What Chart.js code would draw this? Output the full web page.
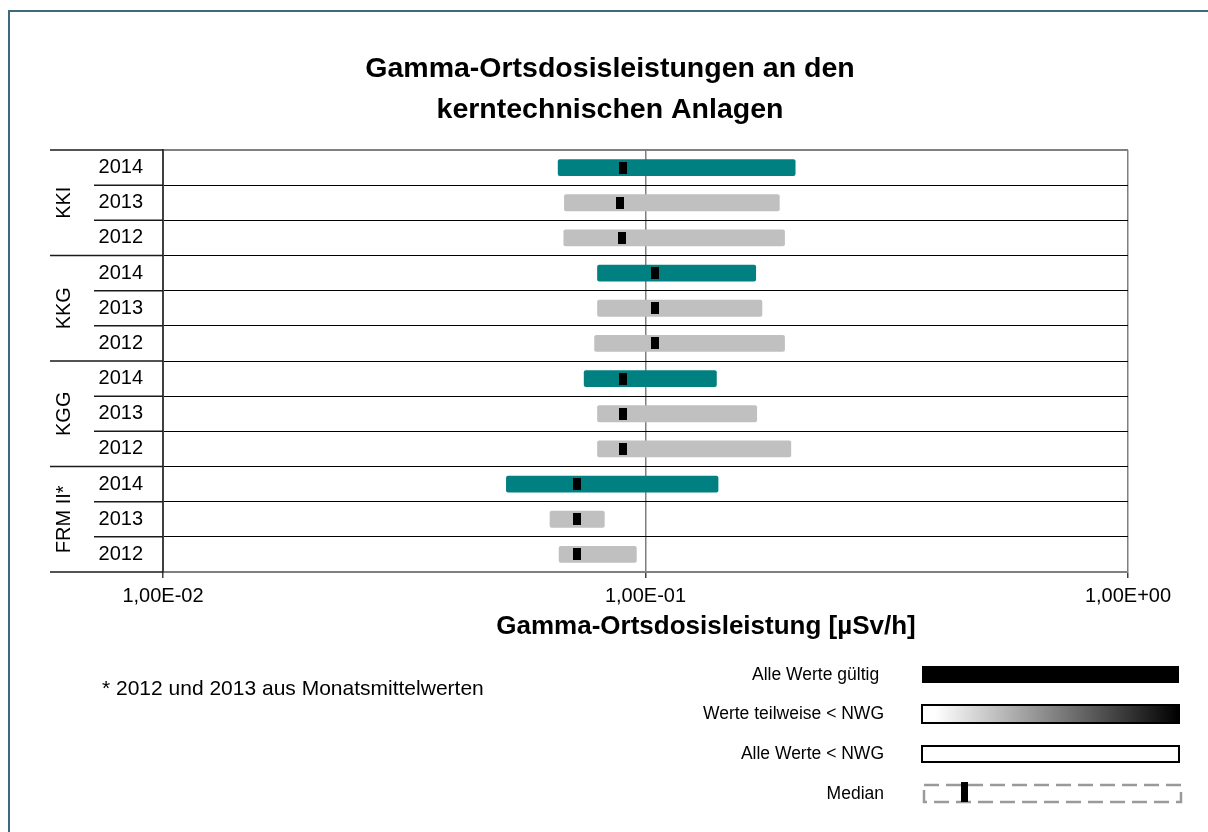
<!DOCTYPE html>
<html><head><meta charset="utf-8">
<script src="https://cdn.jsdelivr.net/npm/chart.js@4/dist/chart.umd.min.js"></script>
<style>html,body{margin:0;padding:0;background:#fff}#wrap{width:1208px;height:832px}</style>
</head><body><div id="wrap"><canvas id="c" width="1208" height="832"></canvas></div>
<script>
// ---- data ----
const titleLines = ['Gamma-Ortsdosisleistungen an den', 'kerntechnischen Anlagen'];
const axisTitle = 'Gamma-Ortsdosisleistung [µSv/h]';
const groups = ['KKI', 'KKG', 'KGG', 'FRM II*'];
const years = ['2014', '2013', '2012'];
const minValues = [0.0658, 0.0678, 0.0676, 0.0794, 0.0794, 0.0783, 0.0745, 0.0794, 0.0794, 0.0514, 0.0633, 0.0661];
const maxValues = [0.2046, 0.1897, 0.1945, 0.1695, 0.1746, 0.1945, 0.1405, 0.1703, 0.2004, 0.1416, 0.0823, 0.0959];
const medianValues = [0.0898, 0.0885, 0.0893, 0.1046, 0.1046, 0.1046, 0.0898, 0.0898, 0.0898, 0.0721, 0.0721, 0.0721];
const xTickValues = [0.01, 0.1, 1];
const xTickLabels = ['1,00E-02', '1,00E-01', '1,00E+00'];
const legendLabels = ['Alle Werte gültig ', 'Werte teilweise < NWG', 'Alle Werte < NWG', 'Median'];
const footnote = '* 2012 und 2013 aus Monatsmittelwerten';

const rowLabels = groups.flatMap(() => years);
const rowGroups = groups.flatMap(g => years.map(() => g));
const TEAL = '#008080', GRAY = '#c0c0c0';
const barColors = rowLabels.map(y => y === '2014' ? TEAL : GRAY);
const FONT = "'Liberation Sans', Arial, Helvetica, sans-serif";
Chart.defaults.font.family = FONT;
Chart.defaults.color = '#000';

const medImg = document.createElement('canvas');
medImg.width = 8; medImg.height = 12;
(function(){ const m = medImg.getContext('2d'); m.fillStyle = '#000'; m.fillRect(0, 0, 8, 12); })();

const decor = {
  id: 'decor',
  afterDraw(chart) {
    const ctx = chart.ctx, ys = chart.scales.y, area = chart.chartArea;
    ctx.save();
    // outer frame
    ctx.fillStyle = '#3e6a7c';
    ctx.fillRect(8, 10, 1200, 2);
    ctx.fillRect(8, 10, 2, 822);
    // title
    ctx.fillStyle = '#000'; ctx.textAlign = 'center'; ctx.textBaseline = 'alphabetic';
    ctx.font = 'bold 28.5px ' + FONT;
    ctx.fillText(titleLines[0], 610, 77);
    ctx.fillText(titleLines[1], 610, 118);
    // axis title
    ctx.font = 'bold 26px ' + FONT;
    ctx.fillText(axisTitle, 706, 634);
    // separators in label area
    const n = rowLabels.length;
    const half = (ys.getPixelForValue(1) - ys.getPixelForValue(0)) / 2;
    ctx.strokeStyle = '#1a1a1a'; ctx.lineWidth = 1.5;
    for (let i = 0; i <= n; i++) {
      const y = i < n ? ys.getPixelForValue(i) - half : ys.getPixelForValue(n - 1) + half;
      const edge = i === 0 || i === n || rowGroups[i] !== rowGroups[i - 1];
      ctx.beginPath(); ctx.moveTo(edge ? 50 : 94, y); ctx.lineTo(area.left, y); ctx.stroke();
    }
    // group labels
    ctx.font = '20px ' + FONT; ctx.textAlign = 'center'; ctx.textBaseline = 'alphabetic';
    groups.forEach(g => {
      const idx = rowGroups.map((v, i) => v === g ? i : -1).filter(i => i >= 0);
      const yc = (ys.getPixelForValue(idx[0]) + ys.getPixelForValue(idx[idx.length - 1])) / 2;
      ctx.save(); ctx.translate(70, yc); ctx.rotate(-Math.PI / 2); ctx.fillText(g, 0, 0); ctx.restore();
    });
    // footnote
    ctx.font = '21px ' + FONT; ctx.textAlign = 'left';
    ctx.fillText(footnote, 102, 695);
    // legend
    const lx = 922, lw = 257;
    const boxes = [[666, 17], [705, 18], [746, 16], [785, 17]];
    ctx.font = '17.5px ' + FONT; ctx.textAlign = 'right'; ctx.textBaseline = 'middle';
    legendLabels.forEach((t, i) => ctx.fillText(t, 884, boxes[i][0] + boxes[i][1] / 2 + 0.5));
    // box 1
    ctx.fillStyle = '#000'; ctx.fillRect(lx, boxes[0][0], lw, boxes[0][1]);
    // box 2
    const gr = ctx.createLinearGradient(lx, 0, lx + lw, 0);
    gr.addColorStop(0, '#ffffff'); gr.addColorStop(0.05, '#ffffff'); gr.addColorStop(1, '#000000');
    ctx.fillStyle = gr; ctx.fillRect(lx, boxes[1][0], lw, boxes[1][1]);
    ctx.strokeStyle = '#000'; ctx.lineWidth = 2;
    ctx.strokeRect(lx, boxes[1][0], lw, boxes[1][1]);
    // box 3
    ctx.fillStyle = '#fff'; ctx.fillRect(lx, boxes[2][0], lw, boxes[2][1]);
    ctx.strokeRect(lx, boxes[2][0], lw, boxes[2][1]);
    // box 4 dashed + median marker
    ctx.setLineDash([15, 7]); ctx.strokeStyle = '#9a9a9a'; ctx.lineWidth = 2.5;
    ctx.strokeRect(lx + 2, boxes[3][0], lw, boxes[3][1]);
    ctx.setLineDash([]);
    ctx.fillStyle = '#000'; ctx.fillRect(961, 782, 7, 20);
    ctx.restore();
  }
};

new Chart(document.getElementById('c'), {
  type: 'bar',
  data: {
    labels: rowLabels,
    datasets: [
      { type: 'line', label: 'Median', data: medianValues, indexAxis: 'y', showLine: false,
        pointStyle: medImg, pointRadius: 6, pointHoverRadius: 6, order: 0, xAxisID: 'x', yAxisID: 'y' },
      { type: 'bar', label: 'Bereich', data: minValues.map((v, i) => [v, maxValues[i]]),
        backgroundColor: barColors, borderWidth: 0, borderSkipped: false, borderRadius: 2,
        categoryPercentage: 1, barPercentage: 0.48, order: 1, xAxisID: 'x', yAxisID: 'y' }
    ]
  },
  options: {
    indexAxis: 'y', responsive: false, animation: false, events: [],
    layout: { padding: { left: 50, right: 80, top: 150, bottom: 220 } },
    plugins: { legend: { display: false }, title: { display: false }, tooltip: { enabled: false } },
    scales: {
      x: {
        type: 'logarithmic', min: 0.01, max: 1, position: 'bottom',
        afterBuildTicks: s => { s.ticks = xTickValues.map(v => ({ value: v })); },
        afterFit: s => { s.height = 40; },
        ticks: { callback: (v, i) => xTickLabels[i], font: { size: 20 }, color: '#000', padding: 6, maxRotation: 0, autoSkip: false },
        grid: { color: '#7f7f7f', lineWidth: 1.5, drawTicks: true, tickLength: 6, tickColor: '#404040' },
        border: { display: true, color: '#808080', width: 2 }
      },
      y: {
        type: 'category', position: 'left', offset: true,
        afterFit: s => { s.width = 113; },
        ticks: { font: { size: 20 }, color: '#000', padding: 20, autoSkip: false },
        grid: { offset: true, drawTicks: false,
          color: c => (c.index === 0 || c.index === undefined) ? '#808080' : '#000',
          lineWidth: c => (c.index === 0 || c.index === undefined) ? 2 : 1 },
        border: { display: true, color: '#404040', width: 2 }
      }
    }
  },
  plugins: [decor]
});
</script>
</body></html>
